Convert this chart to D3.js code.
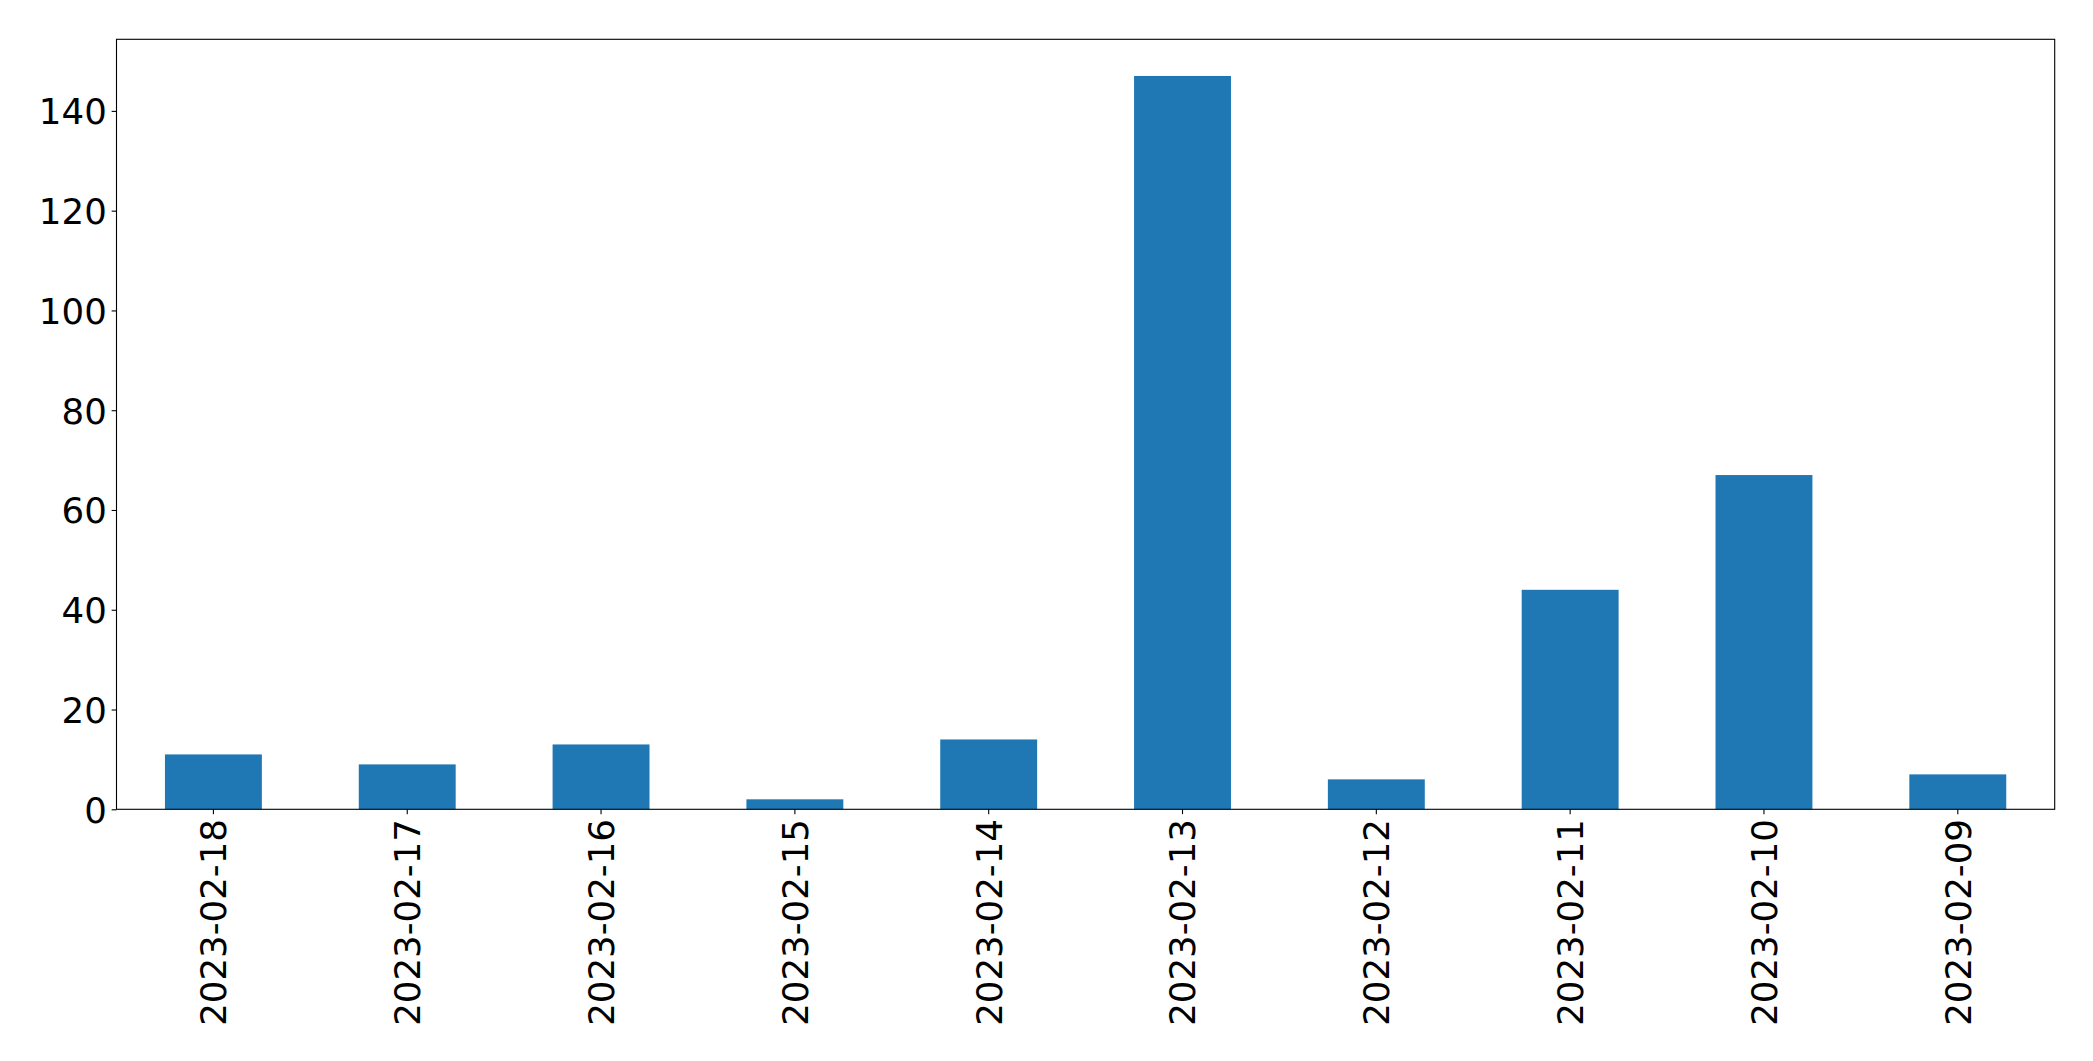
<!DOCTYPE html>
<html>
<head>
<meta charset="utf-8">
<script src="https://cdn.jsdelivr.net/npm/d3@7"></script>
<style>
  html, body { margin: 0; padding: 0; background: #fff; }
  svg { display: block; }
  text { font-family: "DejaVu Sans", sans-serif; fill: #000; }
</style>
</head>
<body>
<script>
const categories = ["2023-02-18","2023-02-17","2023-02-16","2023-02-15","2023-02-14","2023-02-13","2023-02-12","2023-02-11","2023-02-10","2023-02-09"];
const values = [11, 9, 13, 2, 14, 147, 6, 44, 67, 7];
const yTicks = [0, 20, 40, 60, 80, 100, 120, 140];

const W = 2093, H = 1061;
const margin = { left: 116.5, right: W - 2054.7, top: 39.3, bottom: H - 809.3 };
const iw = W - margin.left - margin.right;
const ih = H - margin.top - margin.bottom;
const fontSize = 35.6;
const tickLen = 4.86, pad = 4.86;

const svg = d3.select("body").append("svg").attr("width", W).attr("height", H);
const g = svg.append("g").attr("transform", `translate(${margin.left},${margin.top})`);

const x = d3.scaleBand().domain(categories).range([0, iw]).paddingInner(0.5).paddingOuter(0.25);
const y = d3.scaleLinear().domain([0, d3.max(values) * 1.05]).range([ih, 0]);

g.selectAll("rect.bar").data(values).enter().append("rect")
  .attr("class", "bar")
  .attr("x", (d, i) => x(categories[i]))
  .attr("width", x.bandwidth())
  .attr("y", d => y(d))
  .attr("height", d => ih - y(d))
  .attr("fill", "#1f77b4");

// Y axis
const yAxis = g.append("g").call(d3.axisLeft(y).tickValues(yTicks).tickFormat(d3.format("d")).tickSize(tickLen).tickPadding(pad));
yAxis.select(".domain").remove();
yAxis.selectAll("line").attr("stroke", "#000").attr("stroke-width", 1.1);
yAxis.selectAll("text").attr("font-size", fontSize).attr("font-family", "DejaVu Sans").attr("dy", "0.36em");

// X axis
const xAxis = g.append("g").attr("transform", `translate(0,${ih})`)
  .call(d3.axisBottom(x).tickSize(tickLen).tickPadding(pad));
xAxis.select(".domain").remove();
xAxis.selectAll("line").attr("stroke", "#000").attr("stroke-width", 1.1);
xAxis.selectAll("text")
  .attr("font-size", fontSize)
  .attr("font-family", "DejaVu Sans")
  .attr("text-anchor", "end")
  .attr("x", 0).attr("y", 0)
  .attr("dy", "0.36em")
  .attr("transform", `translate(0,${tickLen + pad}) rotate(-90)`);

// Frame
g.append("rect").attr("x", 0).attr("y", 0).attr("width", iw).attr("height", ih)
  .attr("fill", "none").attr("stroke", "#000").attr("stroke-width", 1.1);
</script>
</body>
</html>
